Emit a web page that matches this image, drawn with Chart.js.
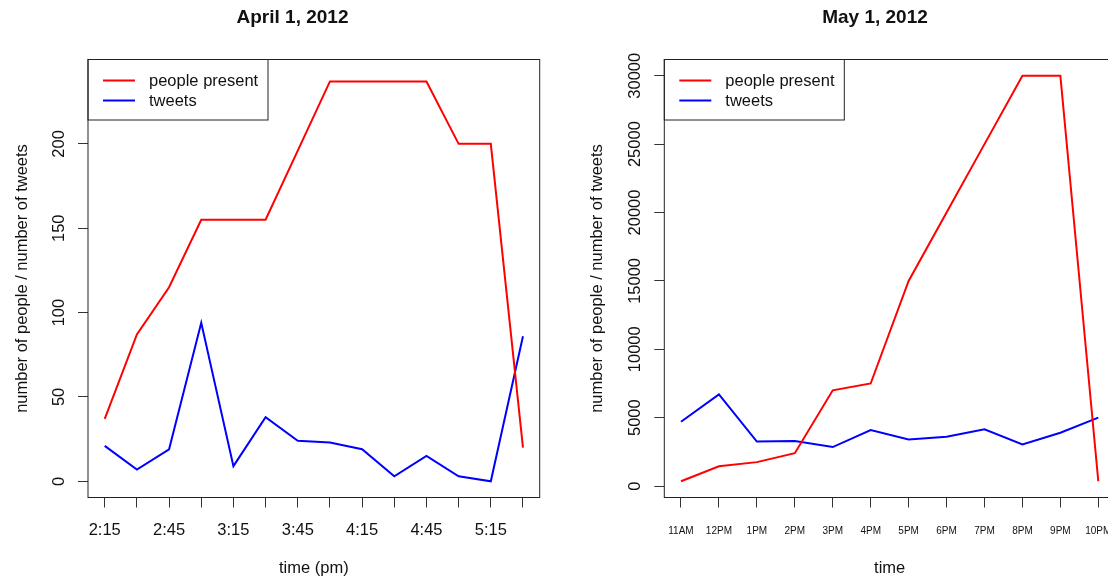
<!DOCTYPE html>
<html>
<head>
<meta charset="utf-8">
<script src="https://cdn.jsdelivr.net/npm/chart.js@4"></script>
<style>
html,body{margin:0;padding:0;background:#fff;overflow:hidden;}
#wrap{position:relative;width:1108px;height:581px;overflow:hidden;}
.panel{position:absolute;top:0;height:581px;}
#p1{left:0;width:585px;}
#p2{left:585px;width:580px;}
</style>
</head>
<body>
<div id="wrap">
  <div class="panel" id="p1"><canvas id="aprilChart" width="585" height="581"></canvas></div>
  <div class="panel" id="p2"><canvas id="mayChart" width="580" height="581"></canvas></div>
</div>
<script>
var aprilTimes=["2:15","2:30","2:45","3:00","3:15","3:30","3:45","4:00","4:15","4:30","4:45","5:00","5:15","5:30"];
var aprilPeople=[37,87,115,155,155,155,196,237,237,237,237,200,200,20];
var aprilTweets=[21,7,19,94,9,38,24,23,19,3,15,3,0,86];
var aprilYTicks=[0,50,100,150,200];

var mayTimes=["11AM","12PM","1PM","2PM","3PM","4PM","5PM","6PM","7PM","8PM","9PM","10PM"];
var mayPeople=[350,1450,1750,2400,7000,7500,15000,20000,25000,30000,30000,350];
var mayTweets=[4700,6700,3250,3300,2850,4100,3400,3600,4150,3050,3900,5000];
var mayYTicks=[0,5000,10000,15000,20000,25000,30000];

var seriesNames=["people present","tweets"];
var seriesColors=["#ff0000","#0000ff"];

var FONT="'Liberation Sans', Arial, sans-serif";

function toPoints(arr){
  return arr.map(function(v,i){ return {x:i,y:v}; });
}

// box around plot, rotated y tick labels and the R style legend
var rLook={
  id:"rLook",
  afterDraw:function(chart){
    var ctx=chart.ctx, a=chart.chartArea, ys=chart.scales.y;
    ctx.save();
    ctx.strokeStyle="#222";
    ctx.lineWidth=1;
    ctx.strokeRect(a.left,a.top,a.right-a.left,a.bottom-a.top);

    ctx.fillStyle="#111";
    ctx.font="16.5px "+FONT;
    ctx.textAlign="center";
    ctx.textBaseline="middle";
    ys.ticks.forEach(function(t){
      var y=ys.getPixelForValue(t.value);
      ctx.save();
      ctx.translate(a.left-29,y);
      ctx.rotate(-Math.PI/2);
      ctx.fillText(String(t.value),0,0);
      ctx.restore();
    });

    // legend
    ctx.strokeStyle="#222";
    ctx.strokeRect(a.left,a.top,180,60.5);
    ctx.textAlign="left";
    chart.data.datasets.forEach(function(ds,i){
      var y=a.top+21+i*20;
      ctx.strokeStyle=ds.borderColor;
      ctx.lineWidth=2;
      ctx.beginPath();
      ctx.moveTo(a.left+15,y);
      ctx.lineTo(a.left+47,y);
      ctx.stroke();
      ctx.fillStyle="#111";
      ctx.fillText(ds.label,a.left+61,y+1);
    });
    ctx.restore();
  }
};

function makeChart(id,title,labels,people,tweets,yTicks,opt){
  return new Chart(id,{
    type:"line",
    data:{
      datasets:[
        {label:seriesNames[0],data:toPoints(people),borderColor:seriesColors[0],borderWidth:2,pointRadius:0,fill:false,tension:0},
        {label:seriesNames[1],data:toPoints(tweets),borderColor:seriesColors[1],borderWidth:2,pointRadius:0,fill:false,tension:0}
      ]
    },
    options:{
      responsive:false,
      animation:false,
      devicePixelRatio:1,
      layout:{padding:0},
      plugins:{
        legend:{display:false},
        tooltip:{enabled:false},
        title:{
          display:true,
          text:title,
          color:"#111",
          font:{family:FONT,size:19,weight:"bold"},
          padding:{top:5.9,bottom:30.8}
        }
      },
      scales:{
        x:{
          type:"linear",
          min:-0.04*(labels.length-1),
          max:(labels.length-1)*1.04,
          afterFit:function(s){ s.height=83.5; },
          border:{display:false},
          grid:{drawOnChartArea:false,drawTicks:true,tickLength:10,color:"#333"},
          ticks:{
            stepSize:1,
            includeBounds:false,
            autoSkip:false,
            maxRotation:0,
            color:"#111",
            padding:opt.xPad,
            font:{family:FONT,size:opt.xFont},
            callback:function(v){
              if(v%opt.every!==0) return "";
              return labels[v];
            }
          },
          title:{
            display:true,
            text:opt.xTitle,
            color:"#111",
            font:{family:FONT,size:16.5},
            padding:{top:0,bottom:2.4}
          }
        },
        y:{
          type:"linear",
          position:"left",
          min:opt.yMin,
          max:opt.yMax,
          afterBuildTicks:function(s){
            s.ticks=yTicks.map(function(v){ return {value:v}; });
          },
          afterFit:function(s){ s.width=opt.yWidth; },
          border:{display:false},
          grid:{drawOnChartArea:false,drawTicks:true,tickLength:10,color:"#333"},
          ticks:{display:false},
          title:{
            display:true,
            text:"number of people / number of tweets",
            color:"#111",
            font:{family:FONT,size:16.5},
            padding:{top:opt.yTitlePad,bottom:0}
          }
        },
        spacer:{
          type:"linear",
          position:"right",
          afterFit:function(s){ s.width=opt.rightSpace; },
          border:{display:false},
          grid:{display:false},
          ticks:{display:false}
        }
      }
    },
    plugins:[rLook]
  });
}

makeChart("aprilChart","April 1, 2012",aprilTimes,aprilPeople,aprilTweets,aprilYTicks,{
  xTitle:"time (pm)",xPad:13,xFont:16.5,every:2,
  yMin:-9.6,yMax:250,yWidth:88,yTitlePad:12.1,rightSpace:45.3
});

makeChart("mayChart","May 1, 2012",mayTimes,mayPeople,mayTweets,mayYTicks,{
  xTitle:"time",xPad:17.5,xFont:10,every:1,
  yMin:-836,yMax:31186,yWidth:79.3,yTitlePad:2.1,rightSpace:50
});
</script>
</body>
</html>
